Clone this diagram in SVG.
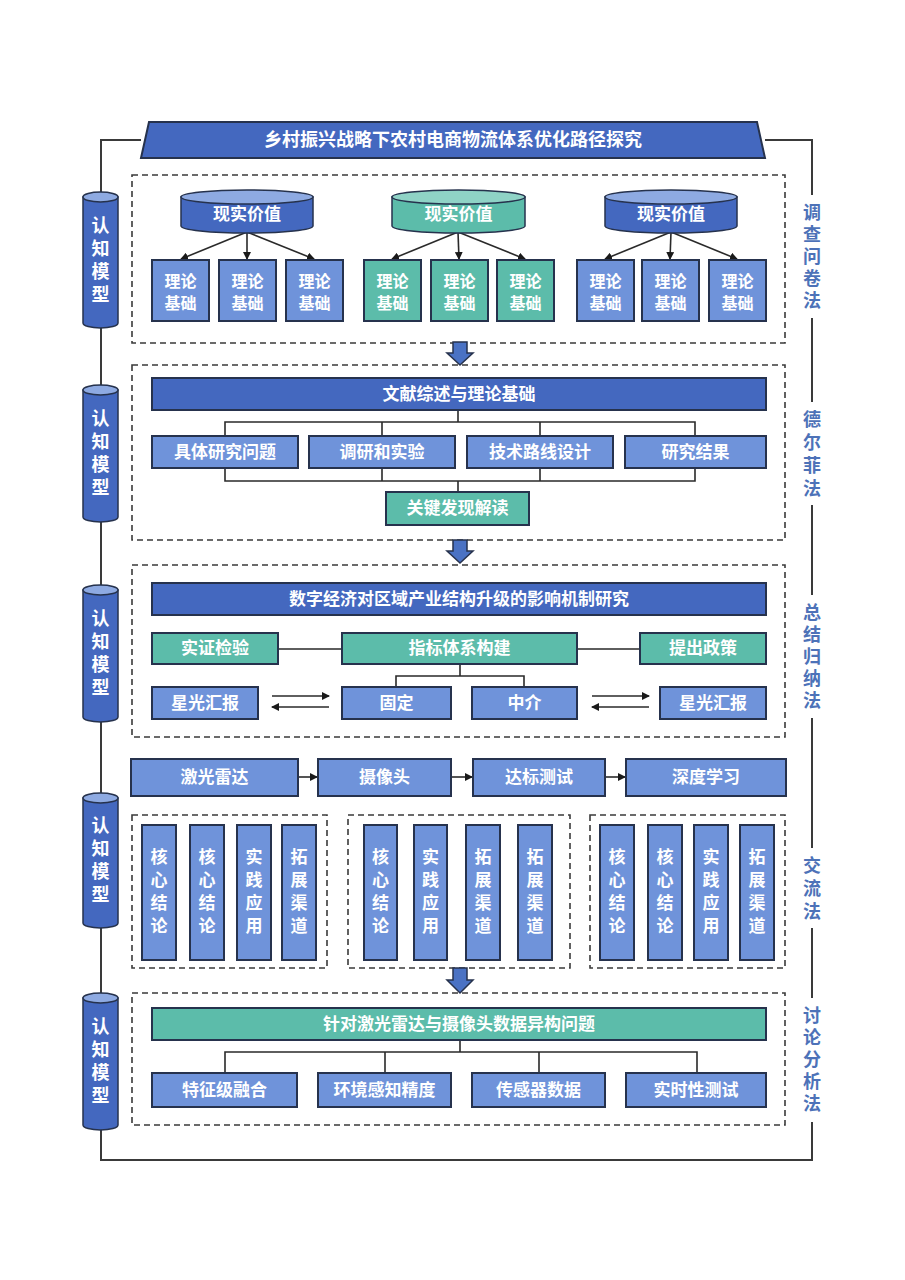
<svg xmlns="http://www.w3.org/2000/svg" width="905" height="1280" viewBox="0 0 905 1280">
<defs>
<marker id="ah" markerWidth="8" markerHeight="8" refX="7" refY="4" orient="auto" markerUnits="userSpaceOnUse"><path d="M0,0 L8,4 L0,8 Z" fill="#1a1a1a"/></marker>
<style>
.bx{stroke:#26324d;stroke-width:2}
.mb{fill:#6f93da}
.db{fill:#4468bf}
.tl{fill:#5cbcaa}
.ctop{fill:#8eaae2;stroke:#26324d;stroke-width:1.5}
.ctopt{fill:#8fd3c6;stroke:#26324d;stroke-width:1.5}
.dash{fill:none;stroke:#3a3a3a;stroke-width:1.6;stroke-dasharray:6 4}
.ln{fill:none;stroke:#2a2a2a;stroke-width:1.6}
.fr{fill:none;stroke:#3a3a3a;stroke-width:2}
.ar{fill:none;stroke:#2a2a2a;stroke-width:1.6;marker-end:url(#ah)}
.blk{fill:#4a72c4;stroke:#26324d;stroke-width:1.5}
.wt{font-family:"Liberation Serif","Noto Sans CJK SC",serif;fill:#ffffff;font-weight:700;text-anchor:middle;dominant-baseline:central}
.f17{font-size:17px}
.f16{font-size:16px}
.f18{font-size:18px}
.lab{font-family:"Liberation Serif","Noto Sans CJK SC",serif;fill:#4d72b8;font-weight:700;font-size:18px;text-anchor:middle;dominant-baseline:central}
</style>
</defs>
<rect width="905" height="1280" fill="#ffffff"/>

<g id="frame">
<path class="fr" d="M141,140 H101 V1160 H812 V1122"/>
<path class="fr" d="M765,140 H812 V195"/>
<line class="fr" x1="812" y1="318" x2="812" y2="402"/>
<line class="fr" x1="812" y1="505" x2="812" y2="595"/>
<line class="fr" x1="812" y1="718" x2="812" y2="848"/>
<line class="fr" x1="812" y1="928" x2="812" y2="998"/>
</g>

<g id="title">
<polygon class="db" points="149,122 757,122 765,158 141,158" stroke="#26324d" stroke-width="2"/>
<text class="wt f18" x="453" y="140">乡村振兴战略下农村电商物流体系优化路径探究</text>
</g>

<g id="left-models">
<g id="model1">
<path d="M83,197 V323 A17.5,5 0 0 0 118,323 V197 Z" class="db" stroke="#26324d" stroke-width="1.5"/>
<ellipse class="ctop" cx="100.5" cy="197" rx="17.5" ry="5"/>
<text class="wt f18" x="100.5"><tspan x="100.5" y="226">认</tspan><tspan x="100.5" y="249">知</tspan><tspan x="100.5" y="272">模</tspan><tspan x="100.5" y="295">型</tspan></text>
</g>
<g id="model2">
<path d="M83,390 V517 A17.5,5 0 0 0 118,517 V390 Z" class="db" stroke="#26324d" stroke-width="1.5"/>
<ellipse class="ctop" cx="100.5" cy="390" rx="17.5" ry="5"/>
<text class="wt f18" x="100.5"><tspan x="100.5" y="419">认</tspan><tspan x="100.5" y="442">知</tspan><tspan x="100.5" y="465">模</tspan><tspan x="100.5" y="488">型</tspan></text>
</g>
<g id="model3">
<path d="M83,590 V717 A17.5,5 0 0 0 118,717 V590 Z" class="db" stroke="#26324d" stroke-width="1.5"/>
<ellipse class="ctop" cx="100.5" cy="590" rx="17.5" ry="5"/>
<text class="wt f18" x="100.5"><tspan x="100.5" y="619">认</tspan><tspan x="100.5" y="642">知</tspan><tspan x="100.5" y="665">模</tspan><tspan x="100.5" y="688">型</tspan></text>
</g>
<g id="model4">
<path d="M83,798 V923 A17.5,5 0 0 0 118,923 V798 Z" class="db" stroke="#26324d" stroke-width="1.5"/>
<ellipse class="ctop" cx="100.5" cy="798" rx="17.5" ry="5"/>
<text class="wt f18" x="100.5"><tspan x="100.5" y="826">认</tspan><tspan x="100.5" y="849">知</tspan><tspan x="100.5" y="872">模</tspan><tspan x="100.5" y="895">型</tspan></text>
</g>
<g id="model5">
<path d="M83,998 V1125 A17.5,5 0 0 0 118,1125 V998 Z" class="db" stroke="#26324d" stroke-width="1.5"/>
<ellipse class="ctop" cx="100.5" cy="998" rx="17.5" ry="5"/>
<text class="wt f18" x="100.5"><tspan x="100.5" y="1027">认</tspan><tspan x="100.5" y="1050">知</tspan><tspan x="100.5" y="1073">模</tspan><tspan x="100.5" y="1096">型</tspan></text>
</g>
</g>

<g id="right-labels">
<text class="lab"><tspan x="812" y="213">调</tspan><tspan x="812" y="235">查</tspan><tspan x="812" y="257">问</tspan><tspan x="812" y="279">卷</tspan><tspan x="812" y="301">法</tspan></text>
<text class="lab"><tspan x="812" y="420">德</tspan><tspan x="812" y="443">尔</tspan><tspan x="812" y="466">菲</tspan><tspan x="812" y="489">法</tspan></text>
<text class="lab"><tspan x="812" y="613">总</tspan><tspan x="812" y="635">结</tspan><tspan x="812" y="657">归</tspan><tspan x="812" y="679">纳</tspan><tspan x="812" y="701">法</tspan></text>
<text class="lab"><tspan x="812" y="866">交</tspan><tspan x="812" y="889">流</tspan><tspan x="812" y="912">法</tspan></text>
<text class="lab"><tspan x="812" y="1016">讨</tspan><tspan x="812" y="1038">论</tspan><tspan x="812" y="1060">分</tspan><tspan x="812" y="1082">析</tspan><tspan x="812" y="1104">法</tspan></text>
</g>

<g id="containers">
<rect class="dash" x="132" y="175" width="653" height="168"/>
<rect class="dash" x="132" y="365" width="653" height="175"/>
<rect class="dash" x="132" y="565" width="653" height="172"/>
<rect class="dash" x="132" y="815" width="195" height="153"/>
<rect class="dash" x="348" y="815" width="222" height="153"/>
<rect class="dash" x="590" y="815" width="195" height="153"/>
<rect class="dash" x="132" y="993" width="653" height="132"/>
</g>

<g id="connectors">
<line class="ar" x1="247" y1="232" x2="181" y2="259"/>
<line class="ar" x1="247" y1="232" x2="247" y2="259"/>
<line class="ar" x1="247" y1="232" x2="314" y2="259"/>
<line class="ar" x1="458" y1="232" x2="392" y2="259"/>
<line class="ar" x1="458" y1="232" x2="459" y2="259"/>
<line class="ar" x1="458" y1="232" x2="525" y2="259"/>
<line class="ar" x1="671" y1="232" x2="605" y2="259"/>
<line class="ar" x1="671" y1="232" x2="670" y2="259"/>
<line class="ar" x1="671" y1="232" x2="737" y2="259"/>
<path class="ln" d="M458,410 V422 M225,436 V422 H695 V436 M382,422 V436 M540,422 V436"/>
<path class="ln" d="M225,468 V481 H695 V468 M382,468 V481 M540,468 V481 M458,481 V492"/>
<path class="ln" d="M278,649 H342 M577,649 H640"/>
<path class="ln" d="M460,664 V676 M396,687 V676 H524 V687"/>
<line class="ar" x1="272" y1="696" x2="329" y2="696"/>
<line class="ar" x1="329" y1="707" x2="272" y2="707"/>
<line class="ar" x1="592" y1="696" x2="649" y2="696"/>
<line class="ar" x1="649" y1="707" x2="592" y2="707"/>
<line class="ar" x1="298" y1="777" x2="317" y2="777"/>
<line class="ar" x1="451" y1="777" x2="472" y2="777"/>
<line class="ar" x1="605" y1="777" x2="625" y2="777"/>
<path class="ln" d="M460,1040 V1052 M225,1073 V1052 H697 V1073 M385,1052 V1073 M539,1052 V1073"/>
<path class="blk" d="M453,342 H467 V353 H473 L460,365 L447,353 H453 Z"/>
<path class="blk" d="M453,540 H467 V551 H473 L460,563 L447,551 H453 Z"/>
<path class="blk" d="M453,968 H467 V980 H473 L460,993 L447,980 H453 Z"/>
</g>

<g id="s1">
<g id="db1">
<path class="db" stroke="#26324d" stroke-width="1.5" d="M181,197 V226 A66,7 0 0 0 313,226 V197 Z"/>
<ellipse class="ctop" cx="247" cy="197" rx="66" ry="7"/>
<text class="wt f17" x="247" y="214">现实价值</text>
</g>
<g id="db2">
<path class="tl" stroke="#26324d" stroke-width="1.5" d="M392,197 V226 A66.5,7 0 0 0 525,226 V197 Z"/>
<ellipse class="ctopt" cx="458.5" cy="197" rx="66.5" ry="7"/>
<text class="wt f17" x="458.5" y="214">现实价值</text>
</g>
<g id="db3">
<path class="db" stroke="#26324d" stroke-width="1.5" d="M605,197 V226 A66,7 0 0 0 737,226 V197 Z"/>
<ellipse class="ctop" cx="671" cy="197" rx="66" ry="7"/>
<text class="wt f17" x="671" y="214">现实价值</text>
</g>
<g id="t1"><rect class="bx mb" x="152" y="260" width="57" height="61"/><text class="wt f16"><tspan x="180.5" y="281">理论</tspan><tspan x="180.5" y="303">基础</tspan></text></g>
<g id="t2"><rect class="bx mb" x="219" y="260" width="57" height="61"/><text class="wt f16"><tspan x="247.5" y="281">理论</tspan><tspan x="247.5" y="303">基础</tspan></text></g>
<g id="t3"><rect class="bx mb" x="286" y="260" width="57" height="61"/><text class="wt f16"><tspan x="314.5" y="281">理论</tspan><tspan x="314.5" y="303">基础</tspan></text></g>
<g id="t4"><rect class="bx tl" x="364" y="260" width="57" height="61"/><text class="wt f16"><tspan x="392.5" y="281">理论</tspan><tspan x="392.5" y="303">基础</tspan></text></g>
<g id="t5"><rect class="bx tl" x="431" y="260" width="57" height="61"/><text class="wt f16"><tspan x="459.5" y="281">理论</tspan><tspan x="459.5" y="303">基础</tspan></text></g>
<g id="t6"><rect class="bx tl" x="497" y="260" width="57" height="61"/><text class="wt f16"><tspan x="525.5" y="281">理论</tspan><tspan x="525.5" y="303">基础</tspan></text></g>
<g id="t7"><rect class="bx mb" x="577" y="260" width="57" height="61"/><text class="wt f16"><tspan x="605.5" y="281">理论</tspan><tspan x="605.5" y="303">基础</tspan></text></g>
<g id="t8"><rect class="bx mb" x="642" y="260" width="57" height="61"/><text class="wt f16"><tspan x="670.5" y="281">理论</tspan><tspan x="670.5" y="303">基础</tspan></text></g>
<g id="t9"><rect class="bx mb" x="709" y="260" width="57" height="61"/><text class="wt f16"><tspan x="737.5" y="281">理论</tspan><tspan x="737.5" y="303">基础</tspan></text></g>
</g>

<g id="s2">
<g id="lit"><rect class="bx db" x="152" y="378" width="614" height="32"/><text class="wt f17" x="459" y="394">文献综述与理论基础</text></g>
<g id="q1"><rect class="bx mb" x="152" y="436" width="146" height="32"/><text class="wt f17" x="225" y="452">具体研究问题</text></g>
<g id="q2"><rect class="bx mb" x="309" y="436" width="146" height="32"/><text class="wt f17" x="382" y="452">调研和实验</text></g>
<g id="q3"><rect class="bx mb" x="467" y="436" width="146" height="32"/><text class="wt f17" x="540" y="452">技术路线设计</text></g>
<g id="q4"><rect class="bx mb" x="625" y="436" width="141" height="32"/><text class="wt f17" x="695.5" y="452">研究结果</text></g>
<g id="key"><rect class="bx tl" x="386" y="492" width="143" height="33"/><text class="wt f17" x="457.5" y="508.5">关键发现解读</text></g>
</g>

<g id="s3">
<g id="digi"><rect class="bx db" x="152" y="583" width="614" height="32"/><text class="wt f17" x="459" y="599">数字经济对区域产业结构升级的影响机制研究</text></g>
<g id="emp"><rect class="bx tl" x="152" y="633" width="126" height="31"/><text class="wt f17" x="215" y="648.5">实证检验</text></g>
<g id="idx"><rect class="bx tl" x="342" y="633" width="235" height="31"/><text class="wt f17" x="459.5" y="648.5">指标体系构建</text></g>
<g id="pol"><rect class="bx tl" x="640" y="633" width="126" height="31"/><text class="wt f17" x="703" y="648.5">提出政策</text></g>
<g id="star1"><rect class="bx mb" x="152" y="687" width="106" height="32"/><text class="wt f17" x="205" y="703">星光汇报</text></g>
<g id="fix"><rect class="bx mb" x="342" y="687" width="109" height="32"/><text class="wt f17" x="396.5" y="703">固定</text></g>
<g id="med"><rect class="bx mb" x="472" y="687" width="105" height="32"/><text class="wt f17" x="524.5" y="703">中介</text></g>
<g id="star2"><rect class="bx mb" x="660" y="687" width="106" height="32"/><text class="wt f17" x="713" y="703">星光汇报</text></g>
</g>

<g id="s4">
<g id="lidar"><rect class="bx mb" x="131" y="759" width="167" height="37"/><text class="wt f17" x="214.5" y="777.5">激光雷达</text></g>
<g id="cam"><rect class="bx mb" x="318" y="759" width="133" height="37"/><text class="wt f17" x="384.5" y="777.5">摄像头</text></g>
<g id="test"><rect class="bx mb" x="473" y="759" width="132" height="37"/><text class="wt f17" x="539" y="777.5">达标测试</text></g>
<g id="dl"><rect class="bx mb" x="626" y="759" width="160" height="37"/><text class="wt f17" x="706" y="777.5">深度学习</text></g>

<g id="a1"><rect class="bx mb" x="142" y="825" width="34" height="135"/><text class="wt f17"><tspan x="159" y="857">核</tspan><tspan x="159" y="880">心</tspan><tspan x="159" y="903">结</tspan><tspan x="159" y="926">论</tspan></text></g>
<g id="a2"><rect class="bx mb" x="190" y="825" width="34" height="135"/><text class="wt f17"><tspan x="207" y="857">核</tspan><tspan x="207" y="880">心</tspan><tspan x="207" y="903">结</tspan><tspan x="207" y="926">论</tspan></text></g>
<g id="a3"><rect class="bx mb" x="237" y="825" width="34" height="135"/><text class="wt f17"><tspan x="254" y="857">实</tspan><tspan x="254" y="880">践</tspan><tspan x="254" y="903">应</tspan><tspan x="254" y="926">用</tspan></text></g>
<g id="a4"><rect class="bx mb" x="282" y="825" width="34" height="135"/><text class="wt f17"><tspan x="299" y="857">拓</tspan><tspan x="299" y="880">展</tspan><tspan x="299" y="903">渠</tspan><tspan x="299" y="926">道</tspan></text></g>

<g id="b1"><rect class="bx mb" x="364" y="825" width="33" height="135"/><text class="wt f17"><tspan x="380.5" y="857">核</tspan><tspan x="380.5" y="880">心</tspan><tspan x="380.5" y="903">结</tspan><tspan x="380.5" y="926">论</tspan></text></g>
<g id="b2"><rect class="bx mb" x="414" y="825" width="33" height="135"/><text class="wt f17"><tspan x="430.5" y="857">实</tspan><tspan x="430.5" y="880">践</tspan><tspan x="430.5" y="903">应</tspan><tspan x="430.5" y="926">用</tspan></text></g>
<g id="b3"><rect class="bx mb" x="466" y="825" width="34" height="135"/><text class="wt f17"><tspan x="483" y="857">拓</tspan><tspan x="483" y="880">展</tspan><tspan x="483" y="903">渠</tspan><tspan x="483" y="926">道</tspan></text></g>
<g id="b4"><rect class="bx mb" x="518" y="825" width="34" height="135"/><text class="wt f17"><tspan x="535" y="857">拓</tspan><tspan x="535" y="880">展</tspan><tspan x="535" y="903">渠</tspan><tspan x="535" y="926">道</tspan></text></g>

<g id="c1"><rect class="bx mb" x="600" y="825" width="34" height="135"/><text class="wt f17"><tspan x="617" y="857">核</tspan><tspan x="617" y="880">心</tspan><tspan x="617" y="903">结</tspan><tspan x="617" y="926">论</tspan></text></g>
<g id="c2"><rect class="bx mb" x="648" y="825" width="34" height="135"/><text class="wt f17"><tspan x="665" y="857">核</tspan><tspan x="665" y="880">心</tspan><tspan x="665" y="903">结</tspan><tspan x="665" y="926">论</tspan></text></g>
<g id="c3"><rect class="bx mb" x="694" y="825" width="34" height="135"/><text class="wt f17"><tspan x="711" y="857">实</tspan><tspan x="711" y="880">践</tspan><tspan x="711" y="903">应</tspan><tspan x="711" y="926">用</tspan></text></g>
<g id="c4"><rect class="bx mb" x="740" y="825" width="34" height="135"/><text class="wt f17"><tspan x="757" y="857">拓</tspan><tspan x="757" y="880">展</tspan><tspan x="757" y="903">渠</tspan><tspan x="757" y="926">道</tspan></text></g>
</g>

<g id="s5">
<g id="het"><rect class="bx tl" x="152" y="1008" width="614" height="32"/><text class="wt f17" x="459" y="1024">针对激光雷达与摄像头数据异构问题</text></g>
<g id="r1"><rect class="bx mb" x="152" y="1073" width="145" height="34"/><text class="wt f17" x="224.5" y="1090">特征级融合</text></g>
<g id="r2"><rect class="bx mb" x="318" y="1073" width="133" height="34"/><text class="wt f17" x="384.5" y="1090">环境感知精度</text></g>
<g id="r3"><rect class="bx mb" x="472" y="1073" width="133" height="34"/><text class="wt f17" x="538.5" y="1090">传感器数据</text></g>
<g id="r4"><rect class="bx mb" x="626" y="1073" width="140" height="34"/><text class="wt f17" x="696" y="1090">实时性测试</text></g>
</g>
</svg>
